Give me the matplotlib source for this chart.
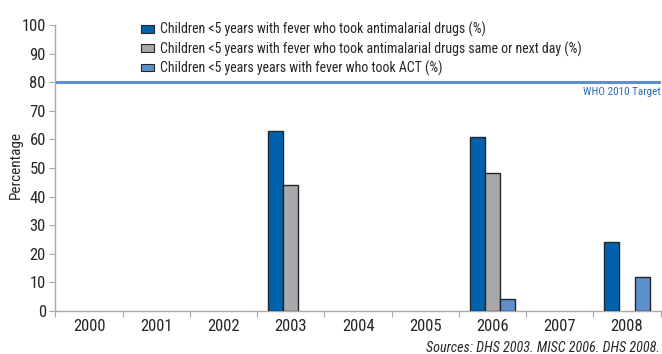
import numpy as np
import matplotlib
matplotlib.use("Agg")
import matplotlib.pyplot as plt
from matplotlib import font_manager

# Data
years = ["2000", "2001", "2002", "2003", "2004", "2005", "2006", "2007", "2008"]
took_antimalarial = [np.nan, np.nan, np.nan, 62.8, np.nan, np.nan, 60.8, np.nan, 23.9]
same_or_next_day = [np.nan, np.nan, np.nan, 44.1, np.nan, np.nan, 48.3, np.nan, np.nan]
took_act = [np.nan, np.nan, np.nan, np.nan, np.nan, np.nan, 4.2, np.nan, 11.9]
series_labels = [
    "Children <5 years with fever who took antimalarial drugs (%)",
    "Children <5 years with fever who took antimalarial drugs same or next day (%)",
    "Children <5 years years with fever who took ACT (%)",
]
target_value = 80
target_label = "WHO 2010 Target"
y_ticks = [0, 10, 20, 30, 40, 50, 60, 70, 80, 90, 100]
source_note = "Sources: DHS 2003. MISC 2006. DHS 2008."

# Prefer a condensed sans-serif face
available = {f.name for f in font_manager.fontManager.ttflist}
family = "DejaVu Sans"
for cand in ["Roboto Condensed", "IBM Plex Sans Condensed", "Open Sans Condensed",
             "Liberation Sans Narrow"]:
    if cand in available:
        family = cand
        break
plt.rcParams["font.family"] = [family, "DejaVu Sans"]

colors = ["#0062ad", "#a6a8ab", "#5d8fcd"]
edge = "#262626"
axis_gray = "#a9a9a9"
text_color = "#262626"

fig = plt.figure(figsize=(6.62, 3.54), dpi=100)
ax = fig.add_axes([0.0838, 0.1223, 0.9142, 0.8065])

x = np.arange(len(years))
w = 0.226
for i, (vals, c, lab) in enumerate(zip([took_antimalarial, same_or_next_day, took_act], colors, series_labels)):
    ax.bar(x + (i - 1) * w, vals, width=w, color=c, edgecolor=edge, linewidth=1.0,
           label=lab, zorder=3)

ax.axhline(target_value, color="#5d8fcd", linewidth=2.2, zorder=2)
ax.text(1.0, target_value - 1.8, target_label, transform=ax.get_yaxis_transform(),
        ha="right", va="top", fontsize=8, color="#2a6db7")

ax.set_xlim(-0.5, len(years) - 0.5)
ax.set_ylim(0, 100)

ax.set_xticks(np.arange(-0.5, len(years), 1))
ax.set_xticklabels([])
ax.set_xticks(x, minor=True)
ax.set_xticklabels(years, minor=True)
ax.tick_params(axis="x", which="major", direction="out", length=4, color=axis_gray)
ax.tick_params(axis="x", which="minor", length=0, pad=6, labelsize=12, labelcolor=text_color)

ax.set_yticks(y_ticks)
ax.tick_params(axis="y", direction="out", length=4, color=axis_gray, pad=3,
               labelsize=12, labelcolor=text_color)

for s in ["top", "right"]:
    ax.spines[s].set_visible(False)
for s in ["left", "bottom"]:
    ax.spines[s].set_color(axis_gray)
    ax.spines[s].set_linewidth(1.0)

fig.text(15.7 / 662, 1 - 165 / 354, "Percentage", rotation=90, ha="center", va="center",
         fontsize=11, color=text_color)

leg = fig.legend(loc="upper left", bbox_to_anchor=(141 / 662, 1 - 22 / 354),
                 frameon=False, fontsize=10, handlelength=0.95, handleheight=0.45,
                 handletextpad=0.4, labelspacing=0.28, borderpad=0, borderaxespad=0)
for t in leg.get_texts():
    t.set_color(text_color)
for h in leg.legend_handles:
    h.set_linewidth(0.8)

fig.text(660 / 662, 1 - 348 / 354, source_note, ha="right", va="center",
         fontsize=10.2, style="italic", color=text_color)

fig.savefig("out.png", dpi=100)
